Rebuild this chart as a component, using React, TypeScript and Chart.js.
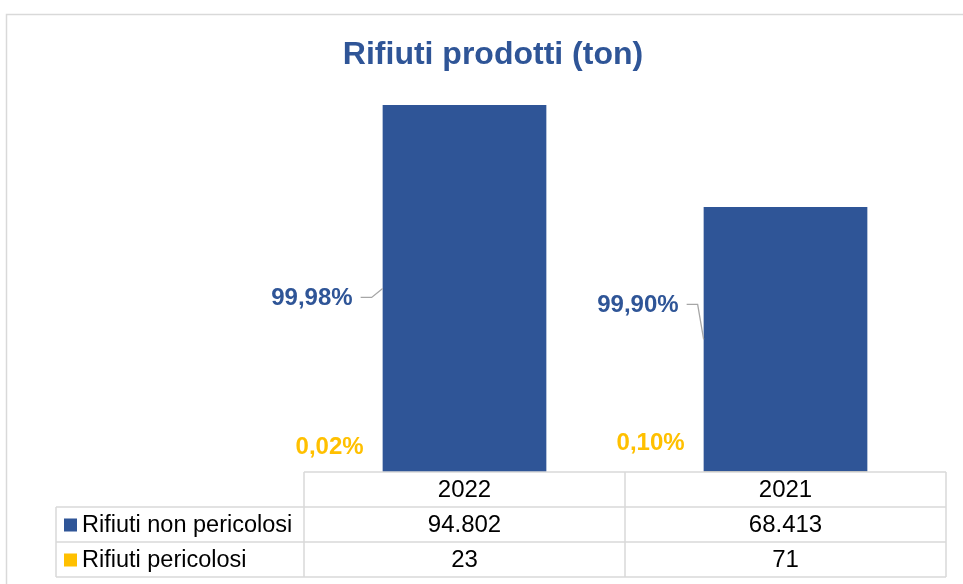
import React, { useEffect, useRef } from "react";
import { Chart, registerables } from "chart.js";

Chart.register(...registerables);

const categories = ["2022", "2021"];
const seriesNames = ["Rifiuti non pericolosi", "Rifiuti pericolosi"];
const nonHazardous = [94802, 68413];
const hazardous = [23, 71];
const yMax = 100000;
const chartTitle = "Rifiuti prodotti (ton)";

const BLUE = "#2f5597";
const YELLOW = "#ffc000";
const GRID = "#d9d9d9";
const FONT = '"Liberation Sans", Arial, sans-serif';

// label layout offsets (relative to bar left edge / bar middle)
const blueLabelOffsets = [
  { dx: -30, dy: 10 },
  { dx: -25, dy: -34 },
];
const yellowLabelDy = [-25, -28];

function fmtThousands(v: number): string {
  return String(v).replace(/\B(?=(\d{3})+(?!\d))/g, ".");
}
function fmtPct(v: number): string {
  return (v * 100).toFixed(2).replace(".", ",") + "%";
}

const overlayPlugin = {
  id: "overlay",
  afterDraw(chart: any) {
    const ctx = chart.ctx as CanvasRenderingContext2D;
    const area = chart.chartArea;
    const xs = chart.scales.x;
    ctx.save();

    // outer frame
    ctx.strokeStyle = GRID;
    ctx.lineWidth = 1.5;
    ctx.strokeRect(6.5, 14.5, chart.width + 20, chart.height + 20);

    // title
    ctx.fillStyle = BLUE;
    ctx.font = `bold 32px ${FONT}`;
    ctx.textAlign = "center";
    ctx.textBaseline = "middle";
    ctx.fillText(chartTitle, 493, 55);

    const metaY = chart.getDatasetMeta(0);
    const metaB = chart.getDatasetMeta(1);
    const n = categories.length;
    for (let i = 0; i < n; i++) {
      const barB = metaB.data[i] as any;
      const barY = metaY.data[i] as any;
      const total = nonHazardous[i] + hazardous[i];
      const left = barB.x - barB.width / 2;
      const midY = (barB.y + barB.base) / 2;
      const off = blueLabelOffsets[i];
      const ly = midY + off.dy;
      const lx = left + off.dx;
      ctx.font = `bold 24px ${FONT}`;
      ctx.textAlign = "right";
      ctx.textBaseline = "middle";
      ctx.fillStyle = BLUE;
      ctx.fillText(fmtPct(nonHazardous[i] / total), lx, ly);
      // leader line
      ctx.strokeStyle = "#a6a6a6";
      ctx.lineWidth = 1.3;
      ctx.beginPath();
      ctx.moveTo(lx + 8, ly - 1);
      ctx.lineTo(lx + 19, ly - 1);
      ctx.lineTo(left, midY);
      ctx.stroke();
      // yellow label
      ctx.fillStyle = YELLOW;
      ctx.fillText(fmtPct(hazardous[i] / total), left - 19, barY.y + yellowLabelDy[i]);
    }

    // data table
    const catW = (area.right - area.left) / n;
    const top = area.bottom;
    const rowH = 35;
    const tableLeft = 56;
    ctx.strokeStyle = GRID;
    ctx.lineWidth = 1.5;
    ctx.beginPath();
    ctx.moveTo(area.left, top);
    ctx.lineTo(area.right, top);
    for (let r = 1; r <= 3; r++) {
      ctx.moveTo(tableLeft, top + rowH * r);
      ctx.lineTo(area.right, top + rowH * r);
    }
    for (let c = 0; c <= n; c++) {
      const x = area.left + catW * c;
      ctx.moveTo(x, top);
      ctx.lineTo(x, top + rowH * 3);
    }
    ctx.moveTo(tableLeft, top + rowH);
    ctx.lineTo(tableLeft, top + rowH * 3);
    ctx.stroke();

    ctx.fillStyle = "#000";
    ctx.font = `24px ${FONT}`;
    ctx.textAlign = "center";
    ctx.textBaseline = "middle";
    for (let i = 0; i < n; i++) {
      const cx = xs.getPixelForValue(i);
      ctx.fillText(categories[i], cx, top + rowH * 0.5 + 1);
      ctx.fillText(fmtThousands(nonHazardous[i]), cx, top + rowH * 1.5 + 1);
      ctx.fillText(fmtThousands(hazardous[i]), cx, top + rowH * 2.5 + 1);
    }
    const colors = [BLUE, YELLOW];
    ctx.font = `23.5px ${FONT}`;
    for (let r = 0; r < 2; r++) {
      const cy = top + rowH * (r + 1.5);
      ctx.fillStyle = colors[r];
      ctx.fillRect(64, cy - 6, 13, 13);
      ctx.fillStyle = "#000";
      ctx.textAlign = "left";
      ctx.fillText(seriesNames[r], 82, cy + 1);
    }
    ctx.restore();
  },
};

export default function App() {
  const ref = useRef<HTMLCanvasElement>(null);
  useEffect(() => {
    if (!ref.current) return;
    const chart = new Chart(ref.current, {
      type: "bar",
      data: {
        labels: categories,
        datasets: [
          {
            label: seriesNames[1],
            data: hazardous,
            backgroundColor: YELLOW,
            barPercentage: 0.51,
            categoryPercentage: 1,
          },
          {
            label: seriesNames[0],
            data: nonHazardous,
            backgroundColor: BLUE,
            barPercentage: 0.51,
            categoryPercentage: 1,
          },
        ],
      },
      options: {
        responsive: false,
        animation: false,
        layout: { padding: { left: 304, right: 17, top: 85, bottom: 112 } },
        scales: {
          x: { stacked: true, display: false },
          y: { stacked: true, display: false, min: 0, max: yMax },
        },
        plugins: { legend: { display: false }, tooltip: { enabled: false } },
      },
      plugins: [overlayPlugin],
    });
    return () => chart.destroy();
  }, []);
  return (
    <div style={{ position: "fixed", left: 0, top: 0, width: 963, height: 584, background: "#fff" }}>
      <canvas ref={ref} width={963} height={584} style={{ display: "block" }} />
    </div>
  );
}
